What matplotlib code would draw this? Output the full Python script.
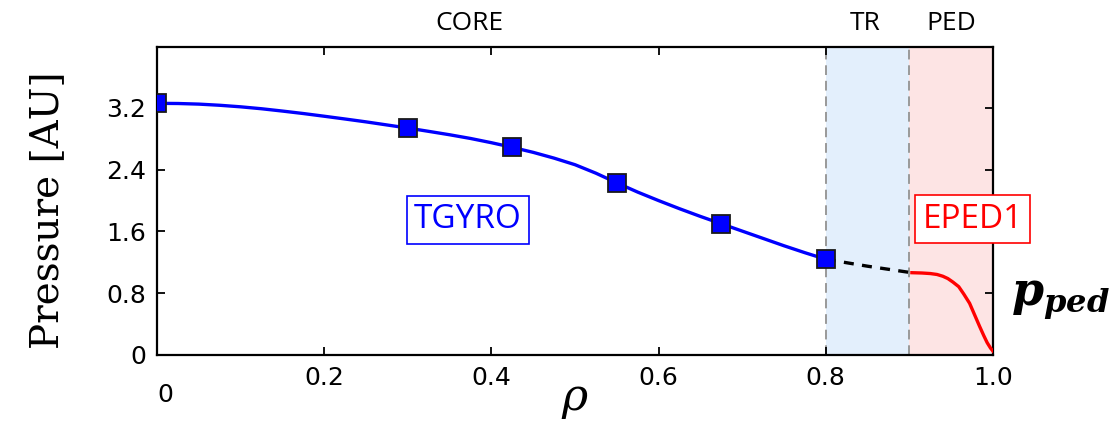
import matplotlib

matplotlib.use("Agg")
import matplotlib.pyplot as plt

plt.rcParams["mathtext.fontset"] = "custom"
plt.rcParams["mathtext.bf"] = "DejaVu Serif:bold:italic"
plt.rcParams["mathtext.it"] = "DejaVu Serif:italic"

# TGYRO core profile (markers = flux-tube radii)
rho_core = [0.0, 0.3, 0.425, 0.55, 0.675, 0.8]
p_core = [3.26, 2.94, 2.69, 2.23, 1.70, 1.24]

# smooth core curve
rho_fit = [0.0, 0.025, 0.05, 0.075, 0.1, 0.125, 0.15, 0.175, 0.2, 0.225,
           0.25, 0.275, 0.3, 0.325, 0.35, 0.375, 0.4, 0.425, 0.45, 0.475,
           0.5, 0.525, 0.55, 0.575, 0.6, 0.625, 0.65, 0.675, 0.7, 0.725,
           0.75, 0.775, 0.8]
p_fit = [3.26, 3.258, 3.25, 3.235, 3.215, 3.19, 3.16, 3.128, 3.093, 3.057,
         3.02, 2.98, 2.94, 2.897, 2.853, 2.805, 2.75, 2.69, 2.625, 2.55,
         2.465, 2.355, 2.23, 2.11, 2.00, 1.895, 1.795, 1.70, 1.605, 1.51,
         1.415, 1.325, 1.24]

# transport region bridge
rho_tr = [0.8, 0.85, 0.9]
p_tr = [1.24, 1.15, 1.07]

# EPED1 pedestal
rho_ped = [0.903, 0.915, 0.925, 0.933, 0.94, 0.946, 0.952, 0.959, 0.965,
           0.972, 0.978, 0.984, 0.989, 0.993, 0.997, 1.0]
p_ped = [1.066, 1.062, 1.055, 1.043, 1.02, 0.99, 0.945, 0.885, 0.79,
         0.67, 0.52, 0.37, 0.25, 0.16, 0.09, 0.05]

regions = ["CORE", "TR", "PED"]
region_x = [0.374, 0.847, 0.95]
bounds = [0.8, 0.9, 1.0]

yticks = [0, 0.8, 1.6, 2.4, 3.2]
xticks = [0.2, 0.4, 0.6, 0.8, 1.0]

fig = plt.figure(figsize=(11.09, 4.28), dpi=100)
ax = fig.add_axes([0.1416, 0.1706, 0.7538, 0.7196])

ax.axvspan(bounds[0], bounds[1], color="#e3effc", lw=0, zorder=0)
ax.axvspan(bounds[1], bounds[2], color="#fde4e4", lw=0, zorder=0)
for xb in bounds[:2]:
    ax.axvline(xb, color="#999999", lw=1.4, ls=(0, (5, 3)), zorder=1)

ax.plot(rho_fit, p_fit, color="#0000ff", lw=2.4, zorder=3, solid_joinstyle="round")
ax.plot(rho_tr, p_tr, color="black", lw=2.4, ls=(0, (3, 2.5)), zorder=2)
ax.plot(rho_ped, p_ped, color="#ff0000", lw=2.4, zorder=3, solid_joinstyle="round")
ax.plot(rho_core, p_core, ls="none", marker="s", ms=13, mfc="#0000ff",
        mec="#1a1a1a", mew=1.3, zorder=4)

ax.set_xlim(0, 1.0)
ax.set_ylim(0, 3.99)
ax.set_xticks(xticks)
ax.set_xticklabels(["%.1f" % v for v in xticks])
ax.set_yticks(yticks)
ax.set_yticklabels(["0" if v == 0 else "%.1f" % v for v in yticks])
ax.tick_params(direction="in", length=6, width=1.3, labelsize=18,
               top=True, right=True, pad=8)
for s in ax.spines.values():
    s.set_linewidth(1.6)

# origin label sits below the others
ax.text(0.0, -0.52, "0", ha="left", va="center", fontsize=18)

ax.set_ylabel("Pressure [AU]", family="DejaVu Serif", fontsize=28, labelpad=29)
ax.yaxis.label.set_y(0.47)
ax.set_xlabel(r"$\mathit{\rho}$", fontsize=32, labelpad=-9)

for name, xr in zip(regions, region_x):
    ax.text(xr, 1.035, name, transform=ax.get_xaxis_transform(), ha="center",
            va="bottom", fontsize=19, family="Open Sans")

ax.text(0.372, 1.75, "TGYRO", color="#0000ff", ha="center", va="center",
        fontsize=24, family="Open Sans",
        bbox=dict(boxstyle="square,pad=0.22", fc="white", ec="#0000ff", lw=1.2))
ax.text(0.976, 1.76, "EPED1", color="#ff0000", ha="center", va="center",
        fontsize=24, family="Open Sans", clip_on=False,
        bbox=dict(boxstyle="square,pad=0.22", fc="white", ec="#ff0000", lw=1.2))

fig.text(0.912, 0.30, r"$\mathbf{p_{ped}}$", fontsize=33, ha="left", va="center")

fig.savefig("out.png", dpi=100)
